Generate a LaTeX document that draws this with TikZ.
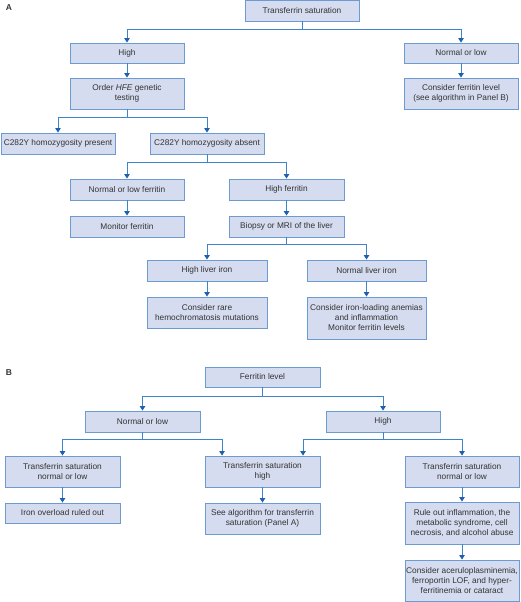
\documentclass[tikz,border=0pt]{standalone}
\usepackage{fontspec}
\setmainfont{Liberation Sans}
\usetikzlibrary{arrows.meta,calc}
\definecolor{boxfill}{HTML}{D5DCEF}
\definecolor{boxdraw}{HTML}{6C9BD2}
\definecolor{linecol}{HTML}{3F83C9}
\definecolor{tipcol}{HTML}{1F5FAF}
\definecolor{txt}{HTML}{333333}
\tikzset{
  bx/.style={draw=boxdraw, fill=boxfill, line width=0.9pt, inner sep=1pt,
    text=txt, align=center, font=\fontsize{8.3}{10}\selectfont},
  conn/.style={draw=linecol, line width=0.9pt,
    -{Triangle[width=5.5pt,length=4.5pt,color=tipcol]}},
  plain/.style={draw=linecol, line width=0.9pt},
  panel/.style={font=\fontsize{8.5}{10}\selectfont\bfseries, text=txt, inner sep=0pt}
}
\begin{document}
\begin{tikzpicture}[x=1pt,y=-1pt]
\useasboundingbox (0,0) rectangle (520,602);
% Panel labels
\node[panel] (labA) at (9,8) {A};
\node[panel] (labB) at (9,373) {B};
% Panel A boxes
\node[bx, minimum width=114pt, minimum height=20.5pt] (ts) at (302,10.75) {Transferrin saturation};
\node[bx, minimum width=114pt, minimum height=20pt] (high) at (127,53) {High};
\node[bx, minimum width=114pt, minimum height=20pt] (nl) at (461,53) {Normal or low};
\node[bx, minimum width=114pt, minimum height=31pt] (hfe) at (127,93.5) {Order \textit{HFE} genetic\\testing};
\node[bx, minimum width=114pt, minimum height=31pt] (cf) at (461,93.5) {Consider ferritin level\\(see algorithm in Panel B)};
\node[bx, minimum width=114pt, minimum height=21pt] (pres) at (58,143.5) {C282Y homozygosity present};
\node[bx, minimum width=114pt, minimum height=21pt] (abs) at (207,143.5) {C282Y homozygosity absent};
\node[bx, minimum width=114pt, minimum height=21pt] (nlf) at (127,189.5) {Normal or low ferritin};
\node[bx, minimum width=114pt, minimum height=21pt] (mon) at (127,226.5) {Monitor ferritin};
\node[bx, minimum width=115pt, minimum height=21pt] (hf) at (286.5,189.5) {High ferritin};
\node[bx, minimum width=115pt, minimum height=21pt] (bio) at (286.5,226.5) {Biopsy or MRI of the liver};
\node[bx, minimum width=120pt, minimum height=21pt] (hli) at (207,270.5) {High liver iron};
\node[bx, minimum width=119pt, minimum height=21pt] (nli) at (366.5,270.5) {Normal liver iron};
\node[bx, minimum width=120pt, minimum height=31pt] (rare) at (207,312.5) {Consider rare\\hemochromatosis mutations};
\node[bx, minimum width=119pt, minimum height=42pt] (iron) at (366.5,318) {Consider iron-loading anemias\\and inflammation\\Monitor ferritin levels};
% Panel A connectors
\draw[plain] (ts.south) -- ++(0,8) coordinate (tsj);
\draw[conn] (tsj) -| (high.north);
\draw[conn] (tsj) -| (nl.north);
\draw[conn] (high) -- (hfe);
\draw[conn] (nl) -- (cf);
\draw[plain] (hfe.south) -- ++(0,8) coordinate (hfej);
\draw[conn] (hfej) -| (pres.north);
\draw[conn] (hfej) -| (abs.north);
\draw[plain] (abs.south) -- ++(0,8) coordinate (absj);
\draw[conn] (absj) -| (nlf.north);
\draw[conn] (absj) -| (hf.north);
\draw[conn] (nlf) -- (mon);
\draw[conn] (hf) -- (bio);
\draw[plain] (bio.south) -- ++(0,7) coordinate (bioj);
\draw[conn] (bioj) -| (hli.north);
\draw[conn] (bioj) -| (nli.north);
\draw[conn] (hli) -- (rare);
\draw[conn] (nli) -- (iron);
% Panel B boxes
\node[bx, minimum width=115pt, minimum height=20pt] (fl) at (262.5,377) {Ferritin level};
\node[bx, minimum width=115pt, minimum height=21pt] (bnl) at (142.5,421.5) {Normal or low};
\node[bx, minimum width=114pt, minimum height=21pt] (bh) at (383,421.5) {High};
\node[bx, minimum width=115pt, minimum height=31pt] (ts1) at (62.5,471.5) {Transferrin saturation\\normal or low};
\node[bx, minimum width=115pt, minimum height=31pt] (ts2) at (262.5,471.5) {Transferrin saturation\\high};
\node[bx, minimum width=114pt, minimum height=31pt] (ts3) at (462,471.5) {Transferrin saturation\\normal or low};
\node[bx, minimum width=115pt, minimum height=20pt] (iro) at (62.5,513) {Iron overload ruled out};
\node[bx, minimum width=115pt, minimum height=31pt] (see) at (262.5,518.5) {See algorithm for transferrin\\saturation (Panel A)};
\node[bx, minimum width=114pt, minimum height=42pt] (rule) at (462,523) {Rule out inflammation, the\\metabolic syndrome, cell\\necrosis, and alcohol abuse};
\node[bx, minimum width=114pt, minimum height=41.5pt] (acer) at (462,580.75) {Consider aceruloplasminemia,\\ferroportin LOF, and hyper-\\ferritinemia or cataract};
% Panel B connectors
\draw[plain] (fl.south) -- ++(0,9) coordinate (flj);
\draw[conn] (flj) -| (bnl.north);
\draw[conn] (flj) -| (bh.north);
\draw[plain] (bnl.south) -- ++(0,7) coordinate (bnlj);
\draw[conn] (bnlj) -| (ts1.north);
\draw[conn] (bnlj) -| ([xshift=-40.5pt]ts2.north);
\draw[plain] (bh.south) -- ++(0,7) coordinate (bhj);
\draw[conn] (bhj) -| ([xshift=40.5pt]ts2.north);
\draw[conn] (bhj) -| (ts3.north);
\draw[conn] (ts1) -- (iro);
\draw[conn] (ts2) -- (see);
\draw[conn] (ts3) -- (rule);
\draw[conn] (rule) -- (acer);
\end{tikzpicture}
\end{document}
